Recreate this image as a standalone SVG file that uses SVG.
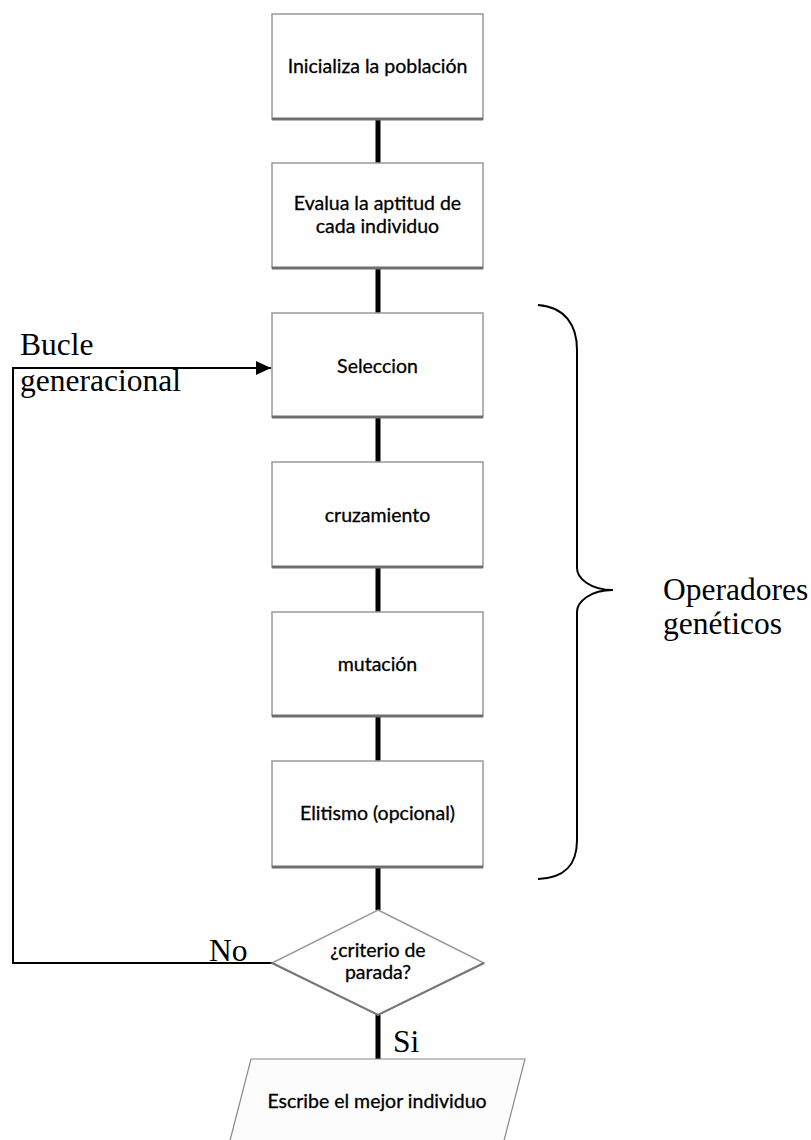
<svg xmlns="http://www.w3.org/2000/svg" width="811" height="1140" viewBox="0 0 811 1140">
<style>
.box{fill:#fefefe;stroke:#999;stroke-width:1.5}
.shadow{stroke:#6e6e6e;stroke-width:3}
.bt{font-family:Lato,"Open Sans",sans-serif;font-size:19.5px;fill:#000;stroke:#000;stroke-width:0.3;text-anchor:middle}
.lbl{font-family:"Liberation Serif","Times New Roman",serif;font-size:31.5px;fill:#000}
.conn{stroke:#000;stroke-width:5;fill:none}
.loop{stroke:#000;stroke-width:2;fill:none}
</style>
<defs>
<marker id="arr" markerWidth="16" markerHeight="14" refX="15" refY="7" orient="auto" markerUnits="userSpaceOnUse">
<path d="M0,0 L15,7 L0,14 Z" fill="#000"/>
</marker>
</defs>
<g id="connectors">
<line class="conn" x1="378" y1="119" x2="378" y2="163"/>
<line class="conn" x1="378" y1="268" x2="378" y2="313"/>
<line class="conn" x1="378" y1="417" x2="378" y2="462"/>
<line class="conn" x1="378" y1="567" x2="378" y2="612"/>
<line class="conn" x1="378" y1="716" x2="378" y2="761"/>
<line class="conn" x1="378" y1="867" x2="378" y2="910"/>
<line class="conn" x1="378" y1="1015" x2="378" y2="1059"/>
<polyline class="loop" points="272,963 13,963 13,368 271,368" marker-end="url(#arr)"/>
</g>
<g id="n1">
<rect class="box" x="272" y="14" width="211" height="105"/>
<line class="shadow" x1="272" y1="119" x2="483" y2="119"/>
<text class="bt" x="377.5" y="73">Inicializa la población</text>
</g>
<g id="n2">
<rect class="box" x="272" y="163" width="211" height="105"/>
<line class="shadow" x1="272" y1="268" x2="483" y2="268"/>
<text class="bt" x="377.5" y="210">Evalua la aptitud de</text>
<text class="bt" x="377.5" y="233">cada individuo</text>
</g>
<g id="n3">
<rect class="box" x="272" y="313" width="211" height="104"/>
<line class="shadow" x1="272" y1="417" x2="483" y2="417"/>
<text class="bt" x="377.5" y="373">Seleccion</text>
</g>
<g id="n4">
<rect class="box" x="272" y="462" width="211" height="105"/>
<line class="shadow" x1="272" y1="567" x2="483" y2="567"/>
<text class="bt" x="377.5" y="522">cruzamiento</text>
</g>
<g id="n5">
<rect class="box" x="272" y="612" width="211" height="104"/>
<line class="shadow" x1="272" y1="716" x2="483" y2="716"/>
<text class="bt" x="377.5" y="671">mutación</text>
</g>
<g id="n6">
<rect class="box" x="272" y="761" width="211" height="106"/>
<line class="shadow" x1="272" y1="867" x2="483" y2="867"/>
<text class="bt" x="377.5" y="820">Elitismo (opcional)</text>
</g>
<g id="decision">
<polygon points="378,910 484,963 378,1015 272,963" fill="#fefefe" stroke="#999" stroke-width="1.5"/>
<polyline points="272,963 378,1015 484,963" fill="none" stroke="#777" stroke-width="2"/>
<text class="bt" x="378" y="957">¿criterio de</text>
<text class="bt" x="378" y="979">parada?</text>
</g>
<g id="output">
<polygon points="251,1059 525,1059 499,1160 225,1160" fill="#fcfcfc" stroke="#888" stroke-width="1.2"/>
<text class="bt" x="377" y="1108">Escribe el mejor individuo</text>
</g>
<g id="brace">
<path d="M538,305 C565,307 577,325 577,350 V568 C577,578 590,590 613,590 C590,590 577,602 577,612 V840 C577,865 565,878 538,879" fill="none" stroke="#000" stroke-width="2"/>
</g>
<g id="labels">
<text class="lbl" x="20" y="355">Bucle</text>
<text class="lbl" x="20" y="391">generacional</text>
<text class="lbl" x="209" y="961">No</text>
<text class="lbl" x="393" y="1052">Si</text>
<text class="lbl" x="663" y="600">Operadores</text>
<text class="lbl" x="663" y="634">genéticos</text>
</g>
</svg>
